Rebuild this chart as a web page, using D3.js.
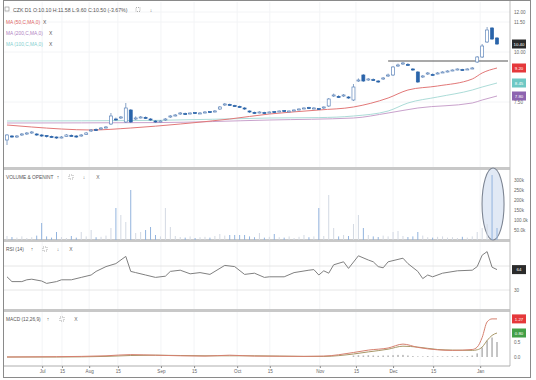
<!DOCTYPE html>
<html>
<head>
<meta charset="utf-8">
<script src="https://cdn.jsdelivr.net/npm/d3@7"></script>
<style>
  body { margin: 0; background: #fff; }
  svg { display: block; font-family: "Liberation Sans", Arial, sans-serif; }
</style>
</head>
<body>
<div id="vis"></div>
<script>
// daily candles, index 0..99
const opens = [5.60,5.80,5.75,5.85,5.90,5.95,5.90,5.85,5.82,5.78, 5.75,5.72,5.78,5.83,5.80,5.80,5.88,6.05,6.12,6.15,
  6.22,6.40,6.65,6.70,6.50,7.10,6.65,6.72,6.73,6.65, 6.55,6.52,6.60,6.75,6.82,6.90,6.92,6.93,6.97,6.93,
  6.97,7.02,7.02,7.15,7.35,7.38,7.32,7.28,7.20,7.05, 6.98,6.97,6.97,6.97,7.02,7.03,7.07,7.03,7.08,7.12,
  7.18,7.22,7.18,7.17,7.20,7.30,7.80,7.78,7.80,7.75, 7.60,8.55,8.85,8.60,8.62,8.55,8.65,8.80,8.85,9.30,
  9.40,9.38,9.15,9.00,8.75,8.90,8.88,8.93,8.98,9.02, 9.08,9.12,9.12,9.13,9.18,9.50,9.75,10.50,11.20,10.70];
const closes = [5.85,5.75,5.80,5.90,5.95,6.00,5.85,5.80,5.78,5.75, 5.70,5.75,5.85,5.80,5.75,5.85,5.95,6.10,6.10,6.20,
  6.25,6.80,6.60,6.75,7.20,6.50,6.70,6.75,6.70,6.60, 6.50,6.55,6.65,6.80,6.85,6.95,6.90,6.95,6.95,6.95,
  7.00,7.00,7.05,7.25,7.40,7.35,7.30,7.25,7.15,7.00, 6.95,7.00,6.95,7.00,7.00,7.05,7.05,7.05,7.10,7.15,
  7.20,7.20,7.20,7.15,7.25,7.65,7.85,7.75,7.85,7.70, 8.25,8.60,8.55,8.65,8.60,8.50,8.70,8.85,9.25,9.35,
  9.45,9.35,9.10,8.50,8.80,8.95,8.85,8.95,9.00,9.05, 9.10,9.15,9.10,9.15,9.20,9.75,10.30,11.10,10.65,10.40];
const highs = [5.90,5.85,5.85,5.95,6.00,6.05,5.95,5.90,5.85,5.82, 5.78,5.80,5.90,5.88,5.85,5.90,6.00,6.15,6.18,6.25,
  6.30,6.95,6.72,6.80,7.45,7.15,6.78,6.80,6.78,6.70, 6.60,6.60,6.70,6.85,6.90,7.00,6.97,6.98,7.00,7.00,
  7.05,7.05,7.10,7.30,7.45,7.42,7.36,7.32,7.25,7.08, 7.02,7.04,7.01,7.03,7.05,7.08,7.10,7.08,7.13,7.18,
  7.23,7.26,7.24,7.20,7.28,7.70,7.92,7.84,7.90,7.80, 8.40,8.68,8.90,8.70,8.68,8.60,8.75,8.92,9.30,9.42,
  9.50,9.45,9.20,9.05,8.85,9.00,8.93,9.00,9.04,9.09, 9.13,9.18,9.16,9.19,9.25,9.80,10.40,11.25,11.25,10.75];
const lows = [5.35,5.70,5.70,5.80,5.85,5.90,5.80,5.75,5.72,5.70, 5.65,5.68,5.75,5.76,5.70,5.76,5.85,6.00,6.05,6.10,
  6.18,6.35,6.55,6.65,6.45,6.45,6.60,6.68,6.65,6.55, 6.45,6.48,6.55,6.70,6.78,6.85,6.86,6.88,6.90,6.90,
  6.93,6.95,6.98,7.10,7.30,7.30,7.26,7.20,7.10,6.95, 6.90,6.93,6.92,6.94,6.96,6.99,7.00,7.00,7.04,7.08,
  7.14,7.16,7.14,7.10,7.15,7.25,7.75,7.70,7.75,7.65, 7.55,8.50,8.50,8.55,8.55,8.45,8.60,8.75,8.80,9.25,
  9.35,9.30,9.05,8.45,8.70,8.85,8.80,8.88,8.95,8.98, 9.04,9.08,9.06,9.10,9.14,9.45,9.70,10.45,10.60,10.35];
// volume in thousands
const volumes = [20,15,12,18,10,14,22,85,18,12, 40,15,10,20,12,40,18,50,14,16,
  22,60,160,125,90,250,35,40,50,65, 25,18,160,65,20,15,12,18,10,14,
  16,12,20,30,22,25,25,25,25,18, 14,35,12,16,30,14,12,18,10,16,
  25,14,18,160,20,225,60,18,25,20, 80,125,60,25,18,15,22,18,40,45,
  20,15,18,40,22,14,12,16,18,12, 14,10,16,12,18,40,60,80,325,60];

// moving averages, [index, value]
const ma50 = [[0,6.35],[5,6.25],[11,6.15],[17,6.10],[25,6.20],[35,6.40],[45,6.65],[53,6.90],[63,7.10],[70,7.25],[77,7.70],[81,8.10],[87,8.30],[94,8.65],[96,8.95],[99,9.20]];
const ma100 = [[0,6.55],[30,6.58],[53,6.70],[63,6.72],[70,6.80],[77,7.05],[81,7.45],[87,7.75],[94,8.10],[96,8.25],[99,8.45]];
const ma200 = [[0,6.45],[30,6.47],[53,6.60],[70,6.70],[77,6.95],[83,7.20],[94,7.45],[96,7.60],[99,7.80]];
const resistance = [[77,9.55],[101.3,9.55]];

const rsi = [[0,52],[1,44],[3,44],[4,47],[5,48],[7,45],[8,41],[10,44],[11,47],[13,47],[15,51],[17,55],[18,61],[20,69],[22,74],[24,86],[25,61],[26,59],[28,55],[30,51],[32,53],[33,61],[35,63],[37,57],[39,59],[41,56],[44,71],[46,69],[48,56],[50,58],[52,51],[53,52],[56,52],[58,59],[61,63],[62,64],[63,55],[64,62],[65,58],[66,72],[68,77],[69,66],[71,87],[73,80],[74,77],[75,69],[76,67],[77,77],[80,83],[81,74],[83,61],[84,49],[85,55],[86,52],[88,58],[91,62],[94,63],[95,69],[96,88],[97,94],[98,68],[99,64]];

const macdLine = [[0,0],[10,0.01],[20,0.04],[25,0.08],[30,0.06],[40,0.03],[45,0.06],[50,0.03],[60,0.02],[64,0.03],[70,0.15],[73,0.23],[77,0.30],[80,0.43],[83,0.32],[87,0.24],[90,0.22],[94,0.25],[95,0.33],[96,0.65],[97,1.17],[98,1.27],[99,1.27]];
const signalLine = [[0,0],[10,0],[20,0.02],[25,0.05],[30,0.06],[40,0.04],[45,0.04],[50,0.04],[60,0.02],[64,0.02],[70,0.10],[73,0.17],[77,0.26],[80,0.36],[83,0.33],[87,0.25],[90,0.23],[94,0.22],[95,0.24],[96,0.33],[97,0.55],[98,0.72],[99,0.80]];
const macdHist = [[70,0.05],[71,0.06],[72,0.05],[73,0.06],[74,0.05],[75,0.04],[76,0.05],[77,0.05],[78,0.06],[79,0.07],[80,0.07],[81,0.05],[82,0.03],[83,0.02],[84,0.02],[85,0.03],[86,0.02],[87,0.02],[88,0.02],[89,0.02],[90,0.03],[91,0.03],[92,0.02],[93,0.03],[94,0.05],[95,0.12],[96,0.32],[97,0.55],[98,0.65],[99,0.5]];

// date axis
const tickIdx = [7.1,11.1,16.6,22.4,31.1,37.8,46.5,53.1,63.2,70.5,78,86.1,95.6];
const tickLabels = ["Jul","15","Aug","15","Sep","15","Oct","15","Nov","15","Dec","15","Jan"];

const priceTicks = [12, 11.5, 10, 7.5];
const volTicks = [300, 250, 200, 150, 100, 50];
const macdTicks = [0.5, 0];

const W = 536, H = 380;
const plotL = 4, plotR = 510;

const svg = d3.select("#vis").append("svg").attr("width", W).attr("height", H);

const x = d3.scaleLinear().domain([0, 99]).range([7, 497]);
const yP = d3.scaleLinear().domain([4.2, 12.45]).range([168, 3]);
const yV = d3.scaleLinear().domain([0, 300]).range([240, 180]);
const yR = d3.scaleLinear().domain([0, 100]).range([308, 248]);
const yM = d3.scaleLinear().domain([0, 1]).range([357, 327]);

const grey = "#666";

// faint grid
svg.append("g").selectAll("line").data(tickIdx).join("line")
  .attr("x1", d => x(d)).attr("x2", d => x(d))
  .attr("y1", 2).attr("y2", 365)
  .attr("stroke", "#f3f4f6");
svg.append("g").selectAll("line").data(priceTicks).join("line")
  .attr("x1", plotL).attr("x2", plotR)
  .attr("y1", d => yP(d)).attr("y2", d => yP(d))
  .attr("stroke", "#f3f4f6");
svg.append("g").selectAll("line").data([70, 30]).join("line")
  .attr("x1", plotL).attr("x2", plotR)
  .attr("y1", d => yR(d)).attr("y2", d => yR(d))
  .attr("stroke", "#e0e0e0").attr("stroke-width", 0.8);

// panel separators
[168.5, 240.5, 310.5].forEach(y => {
  svg.append("rect").attr("x", plotL).attr("y", y - 1.5)
    .attr("width", plotR - plotL).attr("height", 3).attr("fill", "#c8c8c8");
});
svg.append("line").attr("x1", plotR).attr("x2", plotR).attr("y1", 0).attr("y2", 366)
  .attr("stroke", "#bdbdbd");

// moving averages
const maLine = d3.line().x(d => x(d[0])).y(d => yP(d[1])).curve(d3.curveMonotoneX);
[[ma200, "#c9a2cc"], [ma100, "#acdcd8"], [ma50, "#e27878"]].forEach(([d, c]) => {
  svg.append("path").datum(d).attr("d", maLine)
    .attr("fill", "none").attr("stroke", c).attr("stroke-width", 1);
});
svg.append("path").datum(resistance)
  .attr("d", d3.line().x(d => Math.min(x(d[0]), plotR - 2)).y(d => yP(d[1])))
  .attr("stroke", "#555").attr("stroke-width", 1.2);

// candles
const idx = d3.range(opens.length);
const blue = "#2a64aa";
svg.append("g").selectAll("line").data(idx).join("line")
  .attr("x1", i => x(i)).attr("x2", i => x(i))
  .attr("y1", i => yP(highs[i])).attr("y2", i => yP(lows[i]))
  .attr("stroke", "#6a8cb8").attr("stroke-width", 0.8);
svg.append("g").selectAll("rect").data(idx).join("rect")
  .attr("x", i => x(i) - 1.5)
  .attr("width", 3)
  .attr("y", i => yP(Math.max(opens[i], closes[i])))
  .attr("height", i => Math.max(1, Math.abs(yP(opens[i]) - yP(closes[i]))))
  .attr("fill", i => closes[i] >= opens[i] ? "#fff" : blue)
  .attr("stroke", i => closes[i] >= opens[i] ? "#5f86bb" : blue)
  .attr("stroke-width", 0.7);

// volume
svg.append("ellipse")
  .attr("cx", x(98.2)).attr("cy", yV(180)).attr("rx", 11).attr("ry", 36)
  .attr("fill", "#e1e9f5").attr("stroke", "#7d8593").attr("stroke-width", 1.1);
svg.append("g").selectAll("rect").data(idx).join("rect")
  .attr("x", i => x(i) - 0.5).attr("width", 1)
  .attr("y", i => yV(volumes[i]))
  .attr("height", i => yV(0) - yV(volumes[i]))
  .attr("fill", i => closes[i] >= opens[i] ? "#d3d9e3" : "#93b4de");

// RSI
svg.append("path").datum(rsi)
  .attr("d", d3.line().x(d => x(d[0])).y(d => yR(d[1])))
  .attr("fill", "none").attr("stroke", "#808080").attr("stroke-width", 1);

// MACD
svg.append("g").selectAll("rect").data(macdHist).join("rect")
  .attr("x", d => x(d[0]) - 0.8).attr("width", 1.6)
  .attr("y", d => yM(d[1])).attr("height", d => yM(0) - yM(d[1]))
  .attr("fill", "#b8b8b8");
const mLine = d3.line().x(d => x(d[0])).y(d => yM(d[1])).curve(d3.curveMonotoneX);
svg.append("path").datum(signalLine).attr("d", mLine)
  .attr("fill", "none").attr("stroke", "#a89768").attr("stroke-width", 1);
svg.append("path").datum(macdLine).attr("d", mLine)
  .attr("fill", "none").attr("stroke", "#d6806f").attr("stroke-width", 1);

// right axes
function rightAxis(scale, values, fmt) {
  const g = svg.append("g").attr("transform", `translate(${plotR + 3},0)`)
    .call(d3.axisRight(scale).tickValues(values).tickFormat(fmt).tickSize(0).tickPadding(1));
  g.select(".domain").remove();
  g.selectAll("text").attr("font-size", 4.6).attr("fill", grey).attr("font-family", "Liberation Sans, Arial");
}
rightAxis(yP, priceTicks, d3.format(".2f"));
rightAxis(yV, volTicks, d => d <= 100 ? d.toFixed(1) + "k" : d + "k");
rightAxis(yR, [30], d3.format("d"));
rightAxis(yM, macdTicks, d3.format(".1f"));

function valueBox(y, text, fill) {
  svg.append("rect").attr("x", plotR + 2).attr("y", y - 4.5)
    .attr("width", 14).attr("height", 9).attr("fill", fill);
  svg.append("text").attr("x", plotR + 9).attr("y", y + 1.7)
    .attr("text-anchor", "middle").attr("font-size", 4.4).attr("fill", "#fff").text(text);
}
valueBox(yP(closes[99]), closes[99].toFixed(2), "#2b2b2b");
valueBox(yP(ma50[ma50.length - 1][1]), ma50[ma50.length - 1][1].toFixed(2), "#e5383b");
valueBox(yP(ma100[ma100.length - 1][1]), ma100[ma100.length - 1][1].toFixed(2), "#6ec8c4");
valueBox(yP(ma200[ma200.length - 1][1]), ma200[ma200.length - 1][1].toFixed(2), "#8d64b0");
valueBox(yR(rsi[rsi.length - 1][1]), String(rsi[rsi.length - 1][1]), "#2b2b2b");
valueBox(yM(macdLine[macdLine.length - 1][1]), macdLine[macdLine.length - 1][1].toFixed(2), "#e5383b");
valueBox(yM(signalLine[signalLine.length - 1][1]), signalLine[signalLine.length - 1][1].toFixed(2), "#43a047");

// date axis
const xa = svg.append("g").attr("transform", "translate(0,366)")
  .call(d3.axisBottom(x).tickValues(tickIdx).tickFormat((d, i) => tickLabels[i]).tickSize(2).tickPadding(2));
xa.select(".domain").remove();
xa.selectAll("line").attr("stroke", "#888");
xa.selectAll("text").attr("font-size", 4.6).attr("fill", grey).attr("font-family", "Liberation Sans, Arial");
svg.append("line").attr("x1", plotL).attr("x2", plotR).attr("y1", 366).attr("y2", 366)
  .attr("stroke", "#999").attr("stroke-width", 0.8);

// titles and legends
function label(xp, yp, text, color, size) {
  svg.append("text").attr("x", xp).attr("y", yp).attr("font-size", size || 4.8)
    .attr("fill", color || "#555").text(text);
}
function icons(xs, yp) {
  const sym = ["↑", "", "↓", "X"];
  xs.forEach((xp, k) => {
    if (xp == null) return;
    if (sym[k] === "") {
      svg.append("rect").attr("x", xp - 2).attr("y", yp - 4).attr("width", 4).attr("height", 4)
        .attr("fill", "none").attr("stroke", "#777").attr("stroke-width", 0.6).attr("stroke-dasharray", "1,1");
    } else {
      svg.append("text").attr("x", xp).attr("y", yp).attr("text-anchor", "middle")
        .attr("font-size", 5).attr("fill", "#666").text(sym[k]);
    }
  });
}
svg.append("rect").attr("x", 5).attr("y", 7).attr("width", 4).attr("height", 4)
  .attr("fill", "none").attr("stroke", "#888").attr("stroke-width", 0.6);
label(13, 11.5, "CZK D1 O:10.10 H:11.58 L:9.60 C:10.50 (-3.67%)", "#555", 5.2);
icons([null, 138, 151, null], 11.5);
label(6, 24, "MA (50,C,MA,0)", "#e06565");
label(6, 35, "MA (200,C,MA,0)", "#b07fc2");
label(6, 45.5, "MA (100,C,MA,0)", "#83cfcf");
[[43, 24], [49, 35], [49, 45.5]].forEach(([xp, yp]) => {
  svg.append("text").attr("x", xp).attr("y", yp).attr("font-size", 5).attr("fill", "#555").text("X");
});
label(6, 179, "VOLUME & OPENINT");
icons([58, 71, 84, 98], 179);
label(6, 251, "RSI (14)");
icons([32, 45, 58, 71], 251);
label(6, 321, "MACD (12,26,9)");
icons([48, 62, null, 76], 321);

// frame
svg.append("rect").attr("x", 3.5).attr("y", 0.5).attr("width", 527).attr("height", 377)
  .attr("fill", "none").attr("stroke", "#8a8a8a").attr("stroke-width", 1);
</script>
</body>
</html>
